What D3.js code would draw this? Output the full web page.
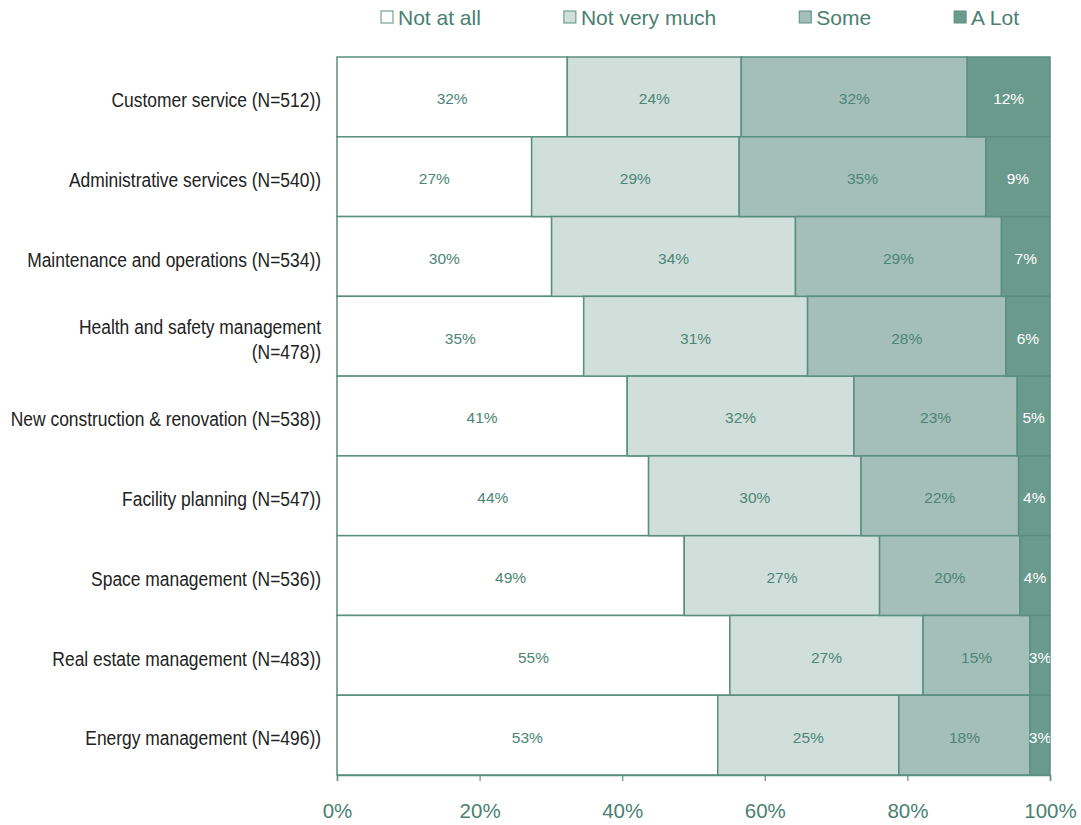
<!DOCTYPE html>
<html>
<head>
<meta charset="utf-8">
<script src="https://cdn.jsdelivr.net/npm/d3@7/dist/d3.min.js"></script>
<style>
  html, body { margin: 0; padding: 0; background: #ffffff; }
  svg { display: block; }
</style>
</head>
<body>
<svg id="chart" width="1081" height="825"></svg>
<script>
// Survey areas (top to bottom); "\n" marks a line break in the axis label
const categories = [
  "Customer service (N=512))",
  "Administrative services (N=540))",
  "Maintenance and operations (N=534))",
  "Health and safety management\n(N=478))",
  "New construction & renovation (N=538))",
  "Facility planning (N=547))",
  "Space management (N=536))",
  "Real estate management (N=483))",
  "Energy management (N=496))"
];

// Response shares, percent of respondents
const notAtAll    = [32.3, 27.3, 30.1, 34.6, 40.7, 43.7, 48.7, 55.1, 53.4];
const notVeryMuch = [24.4, 29.1, 34.2, 31.4, 31.8, 29.8, 27.4, 27.1, 25.4];
const some        = [31.7, 34.6, 28.9, 27.8, 22.9, 22.1, 19.7, 15.0, 18.4];
const aLot        = [11.6,  9.0,  6.8,  6.2,  4.6,  4.4,  4.2,  2.8,  2.8];

const seriesNames = ["Not at all", "Not very much", "Some", "A Lot"];
const xTicks = [0, 20, 40, 60, 80, 100];

const fills = ["#ffffff", "#d1dfdb", "#a3bfb8", "#6a9a8c"];
const labelColors = ["#4d8575", "#4d8575", "#4d8575", "#ffffff"];
const teal = "#5a8f80";
const textTeal = "#4a8070";

const rows = categories.map((c, i) => ({
  category: c,
  "Not at all": notAtAll[i],
  "Not very much": notVeryMuch[i],
  "Some": some[i],
  "A Lot": aLot[i]
}));

const svg = d3.select("#chart");
const margin = { top: 57, left: 337, right: 31, bottom: 50 };
const W = 1081, H = 825;
const innerW = W - margin.left - margin.right;
const innerH = H - margin.top - margin.bottom;

const x = d3.scaleLinear().domain([0, 100]).range([0, innerW]);
const y = d3.scaleBand().domain(categories).range([0, innerH]).paddingInner(0).paddingOuter(0);

const g = svg.append("g").attr("transform", `translate(${margin.left},${margin.top})`);

g.append("clipPath").attr("id", "plotClip")
  .append("rect").attr("x", 0).attr("y", 0).attr("width", innerW).attr("height", innerH);

const stacked = d3.stack().keys(seriesNames)(rows);

// Bars
const layers = g.selectAll("g.layer").data(stacked).join("g")
  .attr("class", "layer")
  .attr("fill", (d, i) => fills[i]);

layers.selectAll("rect").data(d => d).join("rect")
  .attr("x", d => x(d[0]))
  .attr("y", d => y(d.data.category))
  .attr("width", d => x(d[1]) - x(d[0]))
  .attr("height", y.bandwidth())
  .attr("stroke", teal)
  .attr("stroke-width", 1.5);

// Value labels, clipped to the plotting area
const labelG = g.append("g").attr("clip-path", "url(#plotClip)");
stacked.forEach((layer, li) => {
  labelG.selectAll(null).data(layer).join("text")
    .attr("x", d => (x(d[0]) + x(d[1])) / 2)
    .attr("y", d => y(d.data.category) + y.bandwidth() / 2 + 2)
    .attr("dy", "0.35em")
    .attr("text-anchor", "middle")
    .attr("font-family", "Liberation Sans, Arial, sans-serif")
    .attr("font-size", 15.5)
    .attr("fill", labelColors[li])
    .text(d => Math.round(d[1] - d[0]) + "%");
});

// X axis
const xAxis = g.append("g")
  .attr("transform", `translate(0,${innerH})`)
  .call(d3.axisBottom(x).tickValues(xTicks).tickFormat(d => d + "%").tickSize(6).tickPadding(22));
xAxis.select(".domain").attr("stroke", teal).attr("stroke-width", 1.5);
xAxis.selectAll(".tick line").attr("stroke", teal).attr("stroke-width", 1.2);
xAxis.selectAll(".tick text")
  .attr("fill", textTeal)
  .attr("font-family", "Liberation Sans, Arial, sans-serif")
  .attr("font-size", 20.5);

// Category labels, set in a condensed face (horizontal squeeze)
const squeeze = 0.83;
const yLab = g.append("g");
categories.forEach(c => {
  const lines = c.split("\n");
  const lh = 25;
  const cy = y(c) + y.bandwidth() / 2 + 3;
  const t = yLab.append("text")
    .attr("transform", `translate(-16,0) scale(${squeeze},1)`)
    .attr("text-anchor", "end")
    .attr("font-family", "Liberation Sans, Arial, sans-serif")
    .attr("font-size", 21)
    .attr("fill", "#222222");
  lines.forEach((ln, k) => {
    t.append("tspan")
      .attr("x", 0)
      .attr("y", cy + (k - (lines.length - 1) / 2) * lh)
      .attr("dy", "0.35em")
      .text(ln);
  });
});

// Legend across the top
const legend = svg.append("g").attr("transform", "translate(381,18)");
let lx = 0;
seriesNames.forEach((name, i) => {
  const item = legend.append("g").attr("transform", `translate(${lx},0)`);
  item.append("rect")
    .attr("x", 0).attr("y", -7)
    .attr("width", 12).attr("height", 12)
    .attr("fill", fills[i])
    .attr("stroke", teal)
    .attr("stroke-width", 1);
  const txt = item.append("text")
    .attr("x", 17).attr("y", 0).attr("dy", "0.35em")
    .attr("font-family", "Liberation Sans, Arial, sans-serif")
    .attr("font-size", 21)
    .attr("fill", textTeal)
    .text(name);
  lx += 17 + txt.node().getComputedTextLength() + 83;
});
</script>
</body>
</html>
